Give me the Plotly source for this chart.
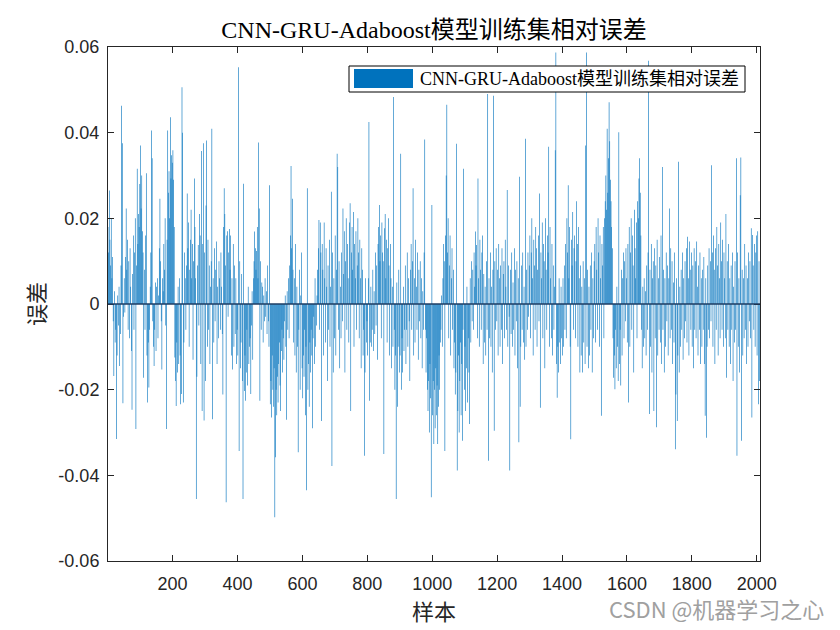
import numpy as np
import plotly.graph_objects as go

# Relative error of the training set, in units of 1e-4, one value per odd sample (1, 3, 5, ...)
err_0001_0099 = [180,120,265,150,90,200,60,110,-40,-168,
                 30,-90,-60,-315,-120,20,-50,40,-145,-70,
                 90,463,375,-232,-30,60,-20,110,223,80,
                 150,-60,100,-80,130,40,-110,-247,70,160,
                 -60,120,200,-292,90,316,140,210,180,280]
err_0101_0199 = [370,223,300,170,120,-172,80,-60,160,305,
                 -120,-230,-90,-195,-60,40,120,405,340,-40,
                 -100,-145,-60,50,-110,40,60,-80,20,130,
                 246,100,-40,-153,60,30,140,80,200,-50,
                 -292,150,405,260,310,200,436,293,347,330]
err_0201_0299 = [359,290,180,-125,-180,-238,-90,-160,40,-140,
                 60,-120,-234,-210,506,400,-230,-90,120,60,
                 -60,90,258,130,190,-100,80,150,220,60,
                 140,-130,100,293,180,60,-455,-170,90,138,
                 -50,210,160,-140,357,-250,140,375,-272,120]
err_0301_0399 = [-180,230,382,-100,150,-60,90,-140,40,100,
                 409,-269,60,-90,130,-40,80,146,-140,40,
                 -80,100,60,-60,120,40,-70,-211,180,270,
                 210,90,-463,160,170,-30,120,175,80,160,
                 -120,60,-153,140,-100,90,-70,60,-140,-60]
err_0401_0499 = [-120,553,-343,100,-150,-90,70,-180,-455,281,
                 -203,-120,-226,-160,-60,-190,40,-140,-100,-80,
                 -210,-50,30,-130,60,100,169,130,80,124,
                 180,60,377,223,-226,100,-60,50,40,-90,
                 20,-40,60,-30,30,-70,90,-40,-100,277]
err_0501_0599 = [-234,-180,-265,-120,-200,-240,-150,-498,-358,-200,
                 -260,-170,-230,-140,-90,-190,-250,-110,-60,-160,
                 -80,-130,-40,20,-100,-270,30,-60,60,-80,
                 90,160,322,130,246,80,-90,60,-120,140,
                 -160,40,-100,-346,-60,80,-200,20,120,-150]
err_0601_0699 = [-220,-120,-170,-60,-260,-100,-435,270,-200,-140,
                 -240,-90,-160,-60,-120,-290,-80,-30,-140,60,
                 -100,-50,20,80,130,196,-60,190,120,-273,
                 140,80,-120,190,60,-90,130,40,-180,90,
                 -60,150,-100,40,262,-378,120,-160,60,-80]
err_0701_0799 = [160,-120,80,351,320,-60,100,-150,40,-80,
                 120,-40,223,70,170,-160,100,200,-60,140,
                 60,-90,190,235,-250,120,180,80,215,-100,
                 140,60,170,-60,90,200,120,-80,150,60,
                 -150,130,80,-120,-60,-354,-160,60,-90,-40]
err_0801_0899 = [-120,60,425,-226,-90,40,-100,-60,80,-110,
                 30,-70,120,-50,90,-130,140,180,231,100,
                 160,-80,190,120,100,-350,177,210,60,150,
                 -90,130,200,90,-120,140,60,-150,40,-100,
                 483,-60,-200,-120,-455,50,-240,-100,80,-160]
err_0901_0999 = [-120,351,-200,-80,-160,40,-110,-60,90,-140,
                 -60,120,-100,60,-40,-180,80,140,-60,100,
                 270,-120,60,-90,150,40,-60,120,-130,80,
                 -40,100,-80,60,-150,30,-60,120,384,-60,
                 -160,-80,-200,-250,-180,-300,-140,-220,-451,231]
err_1001_1099 = [-260,-180,-327,-200,-290,-150,-260,-190,-327,-240,
                 -120,-200,-90,-60,20,-100,60,140,100,-343,
                 160,300,465,120,200,-80,90,160,-120,60,
                 130,-60,80,-150,-90,-211,-160,374,-389,-250,
                 -120,-300,-180,-90,-260,-140,-319,-60,316,-200]
err_1101_1199 = [-100,-250,-150,40,-230,-80,-160,-280,60,-90,
                 100,-40,80,-60,120,40,169,90,138,-80,
                 293,60,-100,150,80,-60,120,160,-140,70,
                 -90,40,-120,100,-60,490,-366,60,-80,120,
                 -100,40,-160,80,486,-296,100,-60,130,-40]
err_1201_1299 = [80,-120,140,60,-100,90,-60,130,-140,70,
                 100,-80,150,40,-60,266,-100,90,-30,-389,
                 80,-70,120,-100,50,-60,130,-120,80,-40,
                 100,-150,60,-323,297,-240,-100,90,-60,120,
                 -90,40,-130,386,-100,80,-60,120,-30,90]
err_1301_1399 = [160,-80,120,200,60,-120,150,90,-60,180,
                 130,-100,80,160,-40,258,-242,120,60,190,
                 -80,140,100,-150,200,80,-60,160,120,367,
                 -100,180,60,-80,140,-120,90,-60,40,359,
                 587,-140,-219,-100,-160,60,-90,-140,40,-80]
err_1401_1499 = [-120,60,-100,90,-60,140,-80,200,120,277,
                 60,180,-100,-316,150,90,215,-60,130,160,
                 -80,100,240,140,-100,180,60,-160,90,-120,
                 40,-160,100,-90,60,-140,370,587,-100,80,
                 -150,40,-120,90,-60,120,-160,60,-80,100]
err_1501_1599 = [140,-90,180,80,-60,200,120,-100,160,60,
                 -261,140,90,180,-80,200,240,300,220,409,
                 260,340,471,380,290,240,180,130,-80,-172,
                 -120,-199,-60,-150,40,-100,-180,401,-140,-60,
                 -190,80,-120,60,120,-80,100,-40,130,60]
err_1601_1699 = [-90,140,-230,180,-100,120,200,-60,160,90,
                 -160,220,130,60,190,-80,240,200,293,340,
                 260,160,-60,-150,40,-100,60,-80,30,-120,
                 90,-60,120,568,-257,80,-100,140,-160,60,
                 100,-250,130,-80,90,-288,150,-120,60,-60]
err_1701_1799 = [110,-90,160,-140,320,-60,80,-160,60,-100,
                 120,-40,90,-120,60,223,-80,130,-60,100,
                 -140,50,-90,120,-339,-211,60,-273,-120,332,
                 -160,40,-100,80,-60,120,-130,60,-80,100,
                 -40,130,-90,157,60,-120,146,80,-60,120]
err_1801_1899 = [-100,90,-150,130,-60,100,-80,146,40,-120,
                 90,-60,120,-140,60,-100,80,-60,110,-140,
                 -261,60,-312,-100,90,-60,130,-80,100,-40,
                 324,120,-100,160,80,-140,130,-60,180,90,
                 -120,140,60,-80,190,100,-60,150,-100,120]
err_1901_1999 = [60,-80,210,-172,100,-60,140,-100,60,-140,
                 90,-60,120,-180,40,-90,100,-60,340,-354,
                 120,-100,60,-160,254,342,-319,80,-120,60,
                 -80,140,-60,90,-140,60,-100,120,-40,100,
                 -80,177,-265,161,90,-60,140,-100,120,160]
err_2001_2009 = [-120,170,-234,100,-180]

value_unit = 1e-4
first_sample = 1
sample_step = 2

x_tick_vals = [200, 400, 600, 800, 1000, 1200, 1400, 1600, 1800, 2000]
x_tick_text = ["200", "400", "600", "800", "1000", "1200", "1400", "1600", "1800", "2000"]
y_tick_vals = [-0.06, -0.04, -0.02, 0, 0.02, 0.04, 0.06]
y_tick_text = ["-0.06", "-0.04", "-0.02", "0", "0.02", "0.04", "0.06"]

series_name = "CNN-GRU-Adaboost模型训练集相对误差"
title_text = "CNN-GRU-Adaboost模型训练集相对误差"
x_label = "样本"
y_label = "误差"
watermark = "CSDN @机器学习之心"

segments = [err_0001_0099, err_0101_0199, err_0201_0299, err_0301_0399, err_0401_0499,
            err_0501_0599, err_0601_0699, err_0701_0799, err_0801_0899, err_0901_0999,
            err_1001_1099, err_1101_1199, err_1201_1299, err_1301_1399, err_1401_1499,
            err_1501_1599, err_1601_1699, err_1701_1799, err_1801_1899, err_1901_1999,
            err_2001_2009]
values = np.concatenate([np.asarray(s, dtype=float) for s in segments]) * value_unit
samples = first_sample + sample_step * np.arange(len(values))

BAR_COLOR = "#0072BD"
BAR_FILL = "rgba(0,114,189,0.999)"   # just below 1 so plotly keeps sub-pixel widths
AX_COLOR = "#262626"
SERIF = "Liberation Serif, 'Noto Sans CJK SC', serif"
SANS = "Liberation Sans, Arial, sans-serif"
CJK = "'Noto Sans CJK SC', sans-serif"

fig = go.Figure()
fig.add_trace(go.Bar(
    x=samples, y=values, width=1.9, name=series_name,
    marker=dict(color=BAR_FILL, line=dict(width=0)),
    showlegend=False,
))

# The page body adds an 8 px offset, so the figure is drawn 8 px smaller and
# every window position below is converted to figure coordinates.
OFF = 8
W, H = 840 - OFF, 630 - OFF
# plot area in window pixels: x 108..760, y 47..561
L, R, T, B = 108 - OFF, 760 - OFF, 47 - OFF, 561 - OFF
def px(xw):
    return (xw - OFF - L) / (R - L)
def py(yw):
    return (B - (yw - OFF)) / (B - T)

axis_common = dict(
    showline=True, linecolor=AX_COLOR, linewidth=1, mirror="ticks",
    ticks="inside", ticklen=6, tickwidth=1, tickcolor=AX_COLOR,
    showgrid=False, zeroline=False, automargin=False,
    tickfont=dict(family=SANS, size=18, color=AX_COLOR),
)

fig.update_layout(
    width=W, height=H,
    margin=dict(l=L, r=W - R, t=T, b=H - B),
    paper_bgcolor="white", plot_bgcolor="white",
    bargap=0.05,
    title=dict(text=title_text, x=px(434), xref="paper", xanchor="center",
               y=1 - (30 - OFF) / H, yref="container", yanchor="middle",
               font=dict(family=SERIF, size=24, color="black"),
               automargin=False),
    xaxis=dict(range=[1, 2010], tickvals=x_tick_vals, ticktext=x_tick_text,
               ticklabelstandoff=6,
               title=dict(text=x_label, standoff=6,
                          font=dict(family=CJK, size=22, color=AX_COLOR)),
               **axis_common),
    yaxis=dict(range=[-0.06, 0.06], tickvals=y_tick_vals, ticktext=y_tick_text,
               ticklabelstandoff=4,
               title=dict(text=y_label, standoff=6,
                          font=dict(family=CJK, size=22, color=AX_COLOR)),
               **axis_common),
    shapes=[
        # bar baseline at zero
        dict(type="line", xref="paper", yref="y", x0=0, x1=1, y0=0, y1=0,
             line=dict(color="#1d3d63", width=1.3), layer="above"),
        # legend box
        dict(type="rect", xref="paper", yref="paper",
             x0=px(349), x1=px(745), y0=py(92), y1=py(66),
             line=dict(color="black", width=1), fillcolor="white", layer="above"),
        # legend swatch
        dict(type="rect", xref="paper", yref="paper",
             x0=px(354), x1=px(413), y0=py(88), y1=py(69),
             line=dict(width=0), fillcolor=BAR_COLOR, layer="above"),
    ],
    annotations=[
        dict(text=series_name, xref="paper", yref="paper", x=px(418), y=py(79),
             xanchor="left", yanchor="middle", showarrow=False,
             font=dict(family=SERIF, size=18, color="black")),
        dict(text=watermark, xref="paper", yref="paper", x=px(826), y=py(608),
             xanchor="right", yanchor="middle", showarrow=False,
             font=dict(family=CJK, size=22, color="#a0a0a0")),
    ],
)

fig.write_html("out.html", config={"staticPlot": True})
